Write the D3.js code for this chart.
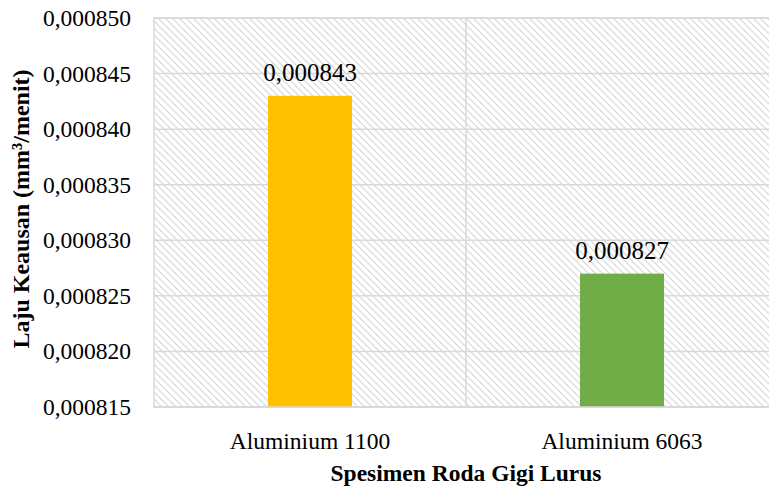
<!DOCTYPE html>
<html><head><meta charset="utf-8">
<script src="https://cdn.jsdelivr.net/npm/d3@7"></script>
<style>body{margin:0;background:#fff}svg{display:block;font-family:"Liberation Serif","Times New Roman",serif}</style>
</head><body><svg id="c" width="769" height="486"></svg>
<script>
const categories = ["Aluminium 1100", "Aluminium 6063"];
const values = [0.000843, 0.000827];
const colors = ["#FFC000", "#70AD47"];
const yTicks = [0.000815, 0.000820, 0.000825, 0.000830, 0.000835, 0.000840, 0.000845, 0.000850];
const xTitle = "Spesimen Roda Gigi Lurus";
const yTitle = "Laju Keausan (mm³/menit)";

const svg = d3.select("#c");
const m = {left:154, right:778, top:18, bottom:407};
const fmt = v => v.toFixed(6).replace(".", ",");
const FF = "Liberation Serif";

const x = d3.scaleBand().domain(categories).range([m.left, m.right]).paddingInner(0).paddingOuter(0);
const y = d3.scaleLinear().domain([0.000815, 0.000850]).range([m.bottom, m.top]);

const defs = svg.append("defs");
const pat = defs.append("pattern").attr("id","hatch").attr("patternUnits","userSpaceOnUse")
  .attr("width",7).attr("height",7);
pat.append("path").attr("d","M-1,-1 L8,8 M-1,6 L1,8 M6,-1 L8,1").attr("stroke","#d6d6d6").attr("stroke-width",1.2);

svg.append("rect").attr("x",m.left).attr("y",m.top).attr("width",m.right-m.left).attr("height",m.bottom-m.top)
  .attr("fill","url(#hatch)").attr("stroke","#d9d9d9").attr("stroke-width",1.5);

svg.append("g").selectAll("line").data(yTicks).join("line")
  .attr("x1",m.left).attr("x2",m.right).attr("y1",d=>y(d)).attr("y2",d=>y(d))
  .attr("stroke","#d9d9d9").attr("stroke-width",1.5);
svg.append("line").attr("x1",x(categories[1])).attr("x2",x(categories[1]))
  .attr("y1",m.top).attr("y2",m.bottom).attr("stroke","#d9d9d9").attr("stroke-width",1.5);

const yAxis = svg.append("g").attr("transform",`translate(${m.left},0)`)
  .call(d3.axisLeft(y).tickValues(yTicks).tickFormat(fmt).tickSize(0).tickPadding(23));
yAxis.select(".domain").remove();
yAxis.selectAll("text").attr("font-size",23.5).attr("fill","#000").attr("font-family",FF);

const bw = 84;
svg.append("g").selectAll("rect").data(values).join("rect")
  .attr("x",(d,i)=>x(categories[i])+x.bandwidth()/2-bw/2)
  .attr("width",bw)
  .attr("y",d=>y(d)).attr("height",d=>y(0.000815)-y(d))
  .attr("fill",(d,i)=>colors[i]);

svg.append("line").attr("x1",m.left).attr("x2",m.right).attr("y1",m.bottom).attr("y2",m.bottom)
  .attr("stroke","#d9d9d9").attr("stroke-width",1.5);

svg.append("g").selectAll("text").data(values).join("text")
  .attr("x",(d,i)=>x(categories[i])+x.bandwidth()/2)
  .attr("y",d=>y(d)-15)
  .attr("text-anchor","middle").attr("font-size",25).attr("fill","#000").attr("font-family",FF)
  .text(fmt);

const xAxis = svg.append("g").attr("transform",`translate(0,${m.bottom})`)
  .call(d3.axisBottom(x).tickSize(0).tickPadding(25));
xAxis.select(".domain").remove();
xAxis.selectAll("text").attr("font-size",23.5).attr("fill","#000").attr("font-family",FF);

svg.append("text").attr("x",466).attr("y",481).attr("text-anchor","middle").attr("font-family",FF)
  .attr("font-size",23.5).attr("font-weight","bold").text(xTitle);
svg.append("text").attr("transform","translate(29,209) rotate(-90)").attr("text-anchor","middle").attr("font-family",FF)
  .attr("font-size",24).attr("font-weight","bold").text(yTitle);
</script></body></html>
